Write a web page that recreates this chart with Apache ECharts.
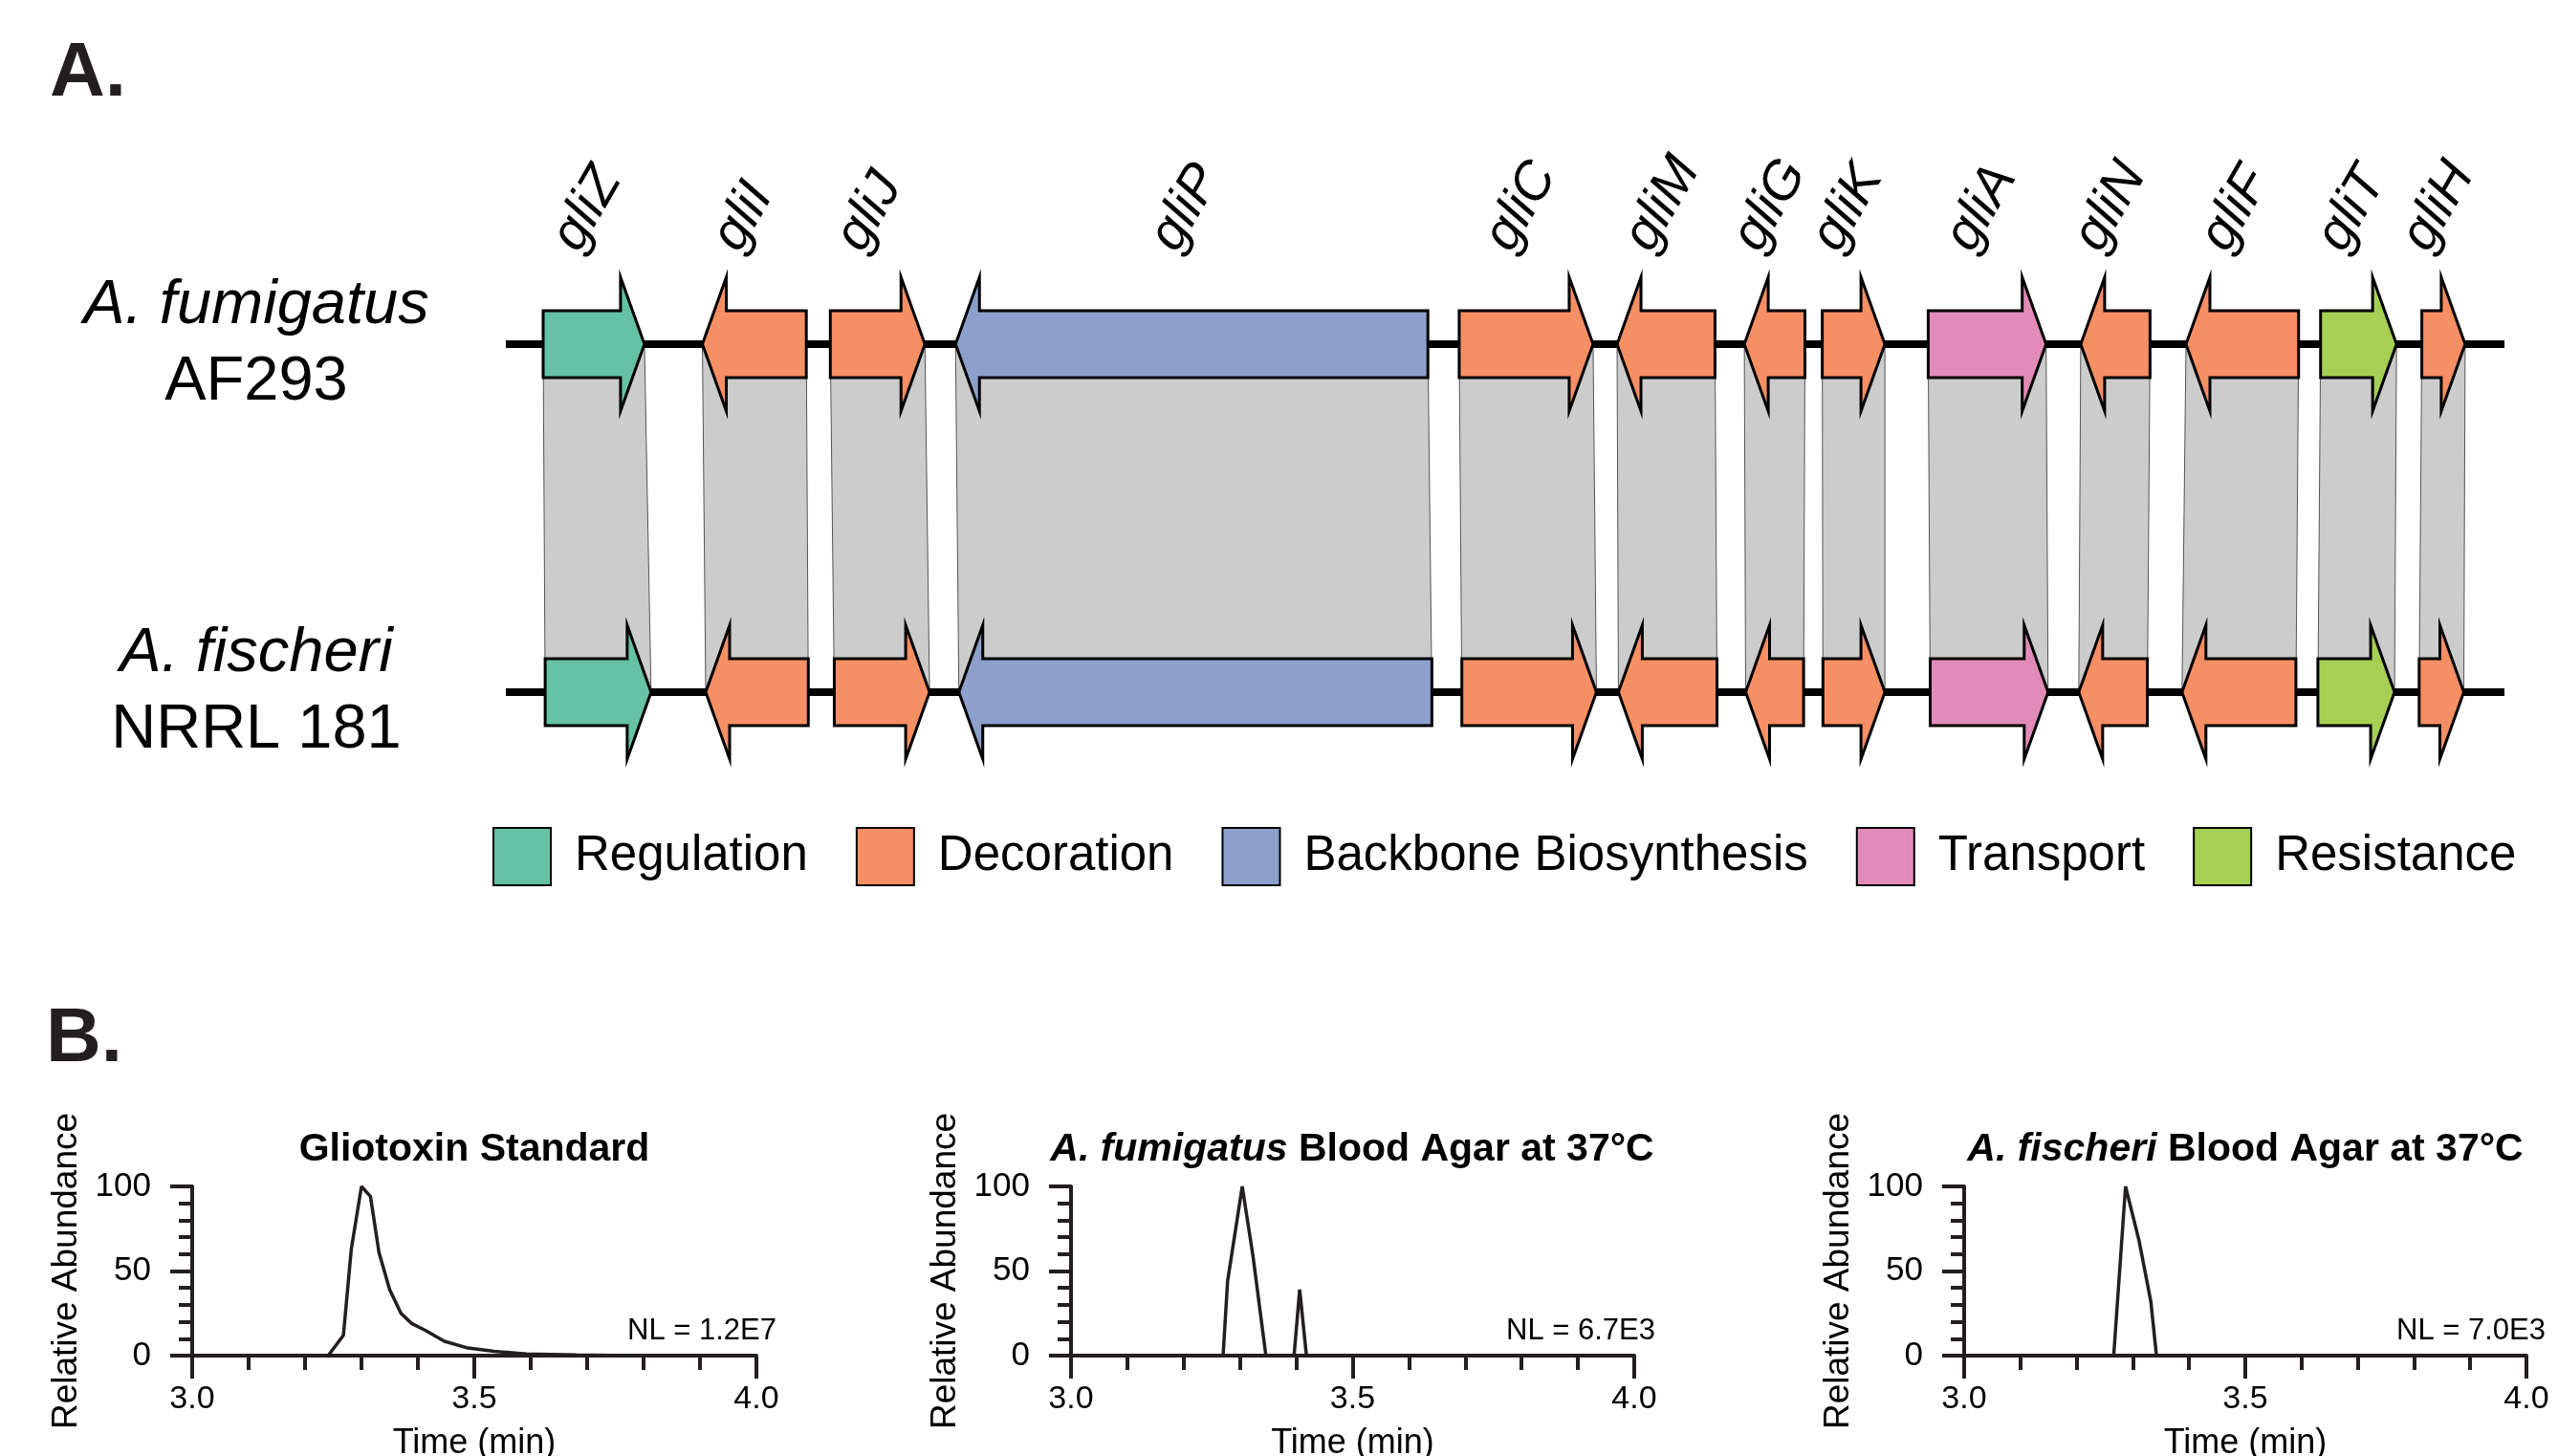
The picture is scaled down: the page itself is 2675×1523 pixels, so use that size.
<!DOCTYPE html>
<html>
<head>
<meta charset="utf-8">
<script src="https://cdn.jsdelivr.net/npm/echarts@6.0.0/dist/echarts.min.js"></script>
<style>html,body{margin:0;padding:0;background:#fff}#chart{width:2675px;height:1523px}</style>
</head>
<body>
<div id="chart"></div>
<script>
var FONT = '"Liberation Sans", Arial, sans-serif';
var INK = '#231f20';

// gli cluster, positions in kb along the locus
var genes = ['gliZ', 'gliI', 'gliJ', 'gliP', 'gliC', 'gliM', 'gliG', 'gliK', 'gliA', 'gliN', 'gliF', 'gliT', 'gliH'];
var geneRole = ['Regulation', 'Decoration', 'Decoration', 'Backbone Biosynthesis', 'Decoration', 'Decoration',
  'Decoration', 'Decoration', 'Transport', 'Decoration', 'Decoration', 'Resistance', 'Decoration'];
var geneStrand = [1, -1, 1, -1, 1, -1, -1, 1, 1, -1, -1, 1, 1];
var fumStart = [0.56, 2.95, 4.87, 6.75, 14.31, 16.68, 18.59, 19.76, 21.35, 23.64, 25.22, 27.24, 28.76];
var fumEnd = [2.08, 4.51, 6.29, 13.84, 16.32, 18.15, 19.50, 20.70, 23.12, 24.68, 26.91, 28.38, 29.41];
var fisStart = [0.59, 3.00, 4.93, 6.80, 14.35, 16.70, 18.61, 19.77, 21.38, 23.61, 25.16, 27.20, 28.72];
var fisEnd = [2.18, 4.54, 6.36, 13.90, 16.37, 18.18, 19.48, 20.70, 23.15, 24.64, 26.87, 28.35, 29.39];
var locusSpan = [0, 30];

var species = ['A. fumigatus', 'A. fischeri'];
var strains = ['AF293', 'NRRL 181'];

var roles = ['Regulation', 'Decoration', 'Backbone Biosynthesis', 'Transport', 'Resistance'];
var roleColors = ['#66c2a5', '#f78f65', '#8da0cb', '#e28bb9', '#a6d054'];

// chromatograms (time in min, relative abundance %)
var stdTime = [3.0, 3.241, 3.268, 3.282, 3.300, 3.316, 3.331, 3.350, 3.370, 3.389, 3.413, 3.447, 3.486, 3.535, 3.593, 3.681, 3.778, 4.0];
var stdAbund = [0, 0, 12, 63, 100, 94, 61, 39, 25, 19, 15, 8.5, 4.7, 2.5, 1, 0.4, 0, 0];
var fumTime = [3.0, 3.270, 3.278, 3.304, 3.323, 3.346, 3.396, 3.406, 3.418, 4.0];
var fumAbund = [0, 0, 44, 100, 59, 0, 0, 39, 0, 0];
var fisTime = [3.0, 3.266, 3.287, 3.311, 3.332, 3.342, 4.0];
var fisAbund = [0, 0, 100, 68, 32, 0, 0];

var panelTitles = ['Gliotoxin Standard', '{i|A. fumigatus} Blood Agar at 37°C', '{i|A. fischeri} Blood Agar at 37°C'];
var panelNL = ['NL = 1.2E7', 'NL = 6.7E3', 'NL = 7.0E3'];

function pairs(xs, ys) {
  return xs.map(function (x, i) { return [x, ys[i]]; });
}

function renderArrow(params, api) {
  var s = api.value(0), e = api.value(1), row = api.value(2), dir = api.value(3), gi = api.value(4);
  var p0 = api.coord([s, row]), p1 = api.coord([e, row]);
  var y = p0[1], l = p0[0], r = p1[0];
  var head = 25, bh = 35, hh = 70, pts, b;
  if (dir > 0) {
    b = r - head;
    pts = [[l, y - bh], [b, y - bh], [b, y - hh], [r, y], [b, y + hh], [b, y + bh], [l, y + bh]];
  } else {
    b = l + head;
    pts = [[r, y - bh], [b, y - bh], [b, y - hh], [l, y], [b, y + hh], [b, y + bh], [r, y + bh]];
  }
  var kids = [{
    type: 'polygon', shape: { points: pts },
    style: { fill: api.visual('color'), stroke: '#000', lineWidth: 3, lineJoin: 'miter' }
  }];
  if (row === 0) {
    kids.push({
      type: 'text', x: (l + r) / 2 - 5, y: y - 88, rotation: Math.PI / 3,
      style: { text: genes[gi], fill: '#000', font: 'italic 56px ' + FONT, align: 'left', verticalAlign: 'bottom' }
    });
  }
  return { type: 'group', children: kids };
}

function renderLink(params, api) {
  var a = api.coord([api.value(0), 0]), b = api.coord([api.value(1), 0]);
  var c = api.coord([api.value(3), 1]), d = api.coord([api.value(2), 1]);
  return {
    type: 'polygon', shape: { points: [a, b, c, d] },
    style: { fill: '#cccccc', stroke: '#555', lineWidth: 1 }
  };
}

function renderBackbone(params, api) {
  var a = api.coord([api.value(0), api.value(2)]), b = api.coord([api.value(1), api.value(2)]);
  return { type: 'line', shape: { x1: a[0], y1: a[1], x2: b[0], y2: b[1] }, style: { stroke: '#000', lineWidth: 8 } };
}

var series = [];
series.push({
  type: 'custom', name: 'link', xAxisIndex: 0, yAxisIndex: 0, z: 1,
  renderItem: renderLink, encode: { x: [0, 1, 2, 3], y: 4 },
  data: genes.map(function (g, i) { return [fumStart[i], fumEnd[i], fisStart[i], fisEnd[i], 0]; })
});
series.push({
  type: 'custom', name: 'backbone', xAxisIndex: 0, yAxisIndex: 0, z: 2,
  renderItem: renderBackbone, encode: { x: [0, 1], y: 2 },
  data: [[locusSpan[0], locusSpan[1], 0], [locusSpan[0], locusSpan[1], 1]]
});
roles.forEach(function (role, k) {
  var d = [];
  genes.forEach(function (g, i) {
    if (geneRole[i] !== role) return;
    d.push([fumStart[i], fumEnd[i], 0, geneStrand[i], i]);
    d.push([fisStart[i], fisEnd[i], 1, geneStrand[i], i]);
  });
  series.push({
    type: 'custom', name: role, xAxisIndex: 0, yAxisIndex: 0, z: 3,
    itemStyle: { color: roleColors[k] },
    renderItem: renderArrow, encode: { x: [0, 1], y: 2 }, data: d
  });
});

var traces = [pairs(stdTime, stdAbund), pairs(fumTime, fumAbund), pairs(fisTime, fisAbund)];
traces.forEach(function (t, k) {
  series.push({
    type: 'line', xAxisIndex: k + 1, yAxisIndex: k + 1, data: t, showSymbol: false,
    lineStyle: { color: INK, width: 3.5 }, z: 5
  });
});

var grids = [{ left: 529, right: 56, top: 360, height: 364, outerBoundsMode: 'none' }];
var gridLeft = [201, 1120, 2054];
var gridWidth = [590, 589, 588];
gridLeft.forEach(function (l, k) {
  grids.push({ left: l, width: gridWidth[k], top: 1241, height: 177, outerBoundsMode: 'none' });
});

var xAxes = [{ gridIndex: 0, type: 'value', min: locusSpan[0], max: locusSpan[1], show: false }];
var yAxes = [{
  gridIndex: 0, type: 'category', inverse: true, boundaryGap: false,
  data: species.map(function (s, i) { return '{sp|' + s + '}\n{st|' + strains[i] + '}'; }),
  axisLine: { show: false }, axisTick: { show: false }, splitLine: { show: false },
  axisLabel: {
    margin: 261, align: 'center',
    rich: {
      sp: { fontFamily: FONT, fontStyle: 'italic', fontSize: 65, color: '#000', lineHeight: 80 },
      st: { fontFamily: FONT, fontSize: 65, color: '#000', lineHeight: 80 }
    }
  }
}];
var axLine = { lineStyle: { color: INK, width: 4 } };
[1, 2, 3].forEach(function (g) {
  xAxes.push({
    gridIndex: g, type: 'value', min: 3, max: 4, interval: 0.5,
    name: 'Time (min)', nameLocation: 'middle', nameGap: 74,
    nameTextStyle: { fontFamily: FONT, fontSize: 36, color: '#000' },
    axisLine: axLine, splitLine: { show: false },
    axisTick: { length: 24, lineStyle: { color: INK, width: 4 } },
    minorTick: { show: true, splitNumber: 5, length: 15, lineStyle: { color: INK, width: 4 } },
    axisLabel: { margin: 29, fontFamily: FONT, fontSize: 34, color: '#000', formatter: function (v) { return v.toFixed(1); } }
  });
  yAxes.push({
    gridIndex: g, type: 'value', min: 0, max: 100, interval: 50,
    name: 'Relative Abundance', nameLocation: 'middle', nameGap: 113, nameRotate: 90,
    nameTextStyle: { fontFamily: FONT, fontSize: 37, color: '#000' },
    axisLine: { show: true, lineStyle: { color: INK, width: 4 } }, splitLine: { show: false },
    axisTick: { length: 23, lineStyle: { color: INK, width: 4 } },
    minorTick: { show: true, splitNumber: 5, length: 14, lineStyle: { color: INK, width: 4 } },
    axisLabel: { margin: 43, fontFamily: FONT, fontSize: 35, color: '#000' }
  });
});

var titleCenters = [496, 1414, 2348];
var nlRight = [812, 1731, 2662];
var titles = [
  { text: 'A.', left: 52, top: 38, padding: 0, textStyle: { fontFamily: FONT, fontSize: 80, fontWeight: 'bold', color: INK } },
  { text: 'B.', left: 48, top: 1048, padding: 0, textStyle: { fontFamily: FONT, fontSize: 80, fontWeight: 'bold', color: INK } }
];
panelTitles.forEach(function (t, k) {
  titles.push({
    text: t, left: titleCenters[k], textAlign: 'center', top: 1182, padding: 0,
    textStyle: {
      fontFamily: FONT, fontSize: 41, fontWeight: 'bold', color: '#000',
      rich: { i: { fontFamily: FONT, fontSize: 41, fontWeight: 'bold', fontStyle: 'italic', color: '#000' } }
    }
  });
  titles.push({
    text: panelNL[k], left: nlRight[k], textAlign: 'right', top: 1377, padding: 0,
    textStyle: { fontFamily: FONT, fontSize: 31, fontWeight: 'normal', color: '#000' }
  });
});

var chart = echarts.init(document.getElementById('chart'));
chart.setOption({
  animation: false,
  backgroundColor: '#fff',
  title: titles,
  legend: {
    data: roles, left: 515, top: 865, orient: 'horizontal', padding: 0,
    icon: 'rect', itemWidth: 60, itemHeight: 60, itemGap: 50, selectedMode: false,
    itemStyle: { borderColor: '#000', borderWidth: 2 },
    textStyle: { fontFamily: FONT, fontSize: 51, color: '#000', padding: [0, 0, 0, 20] }
  },
  grid: grids,
  xAxis: xAxes,
  yAxis: yAxes,
  series: series
});
</script>
</body>
</html>
